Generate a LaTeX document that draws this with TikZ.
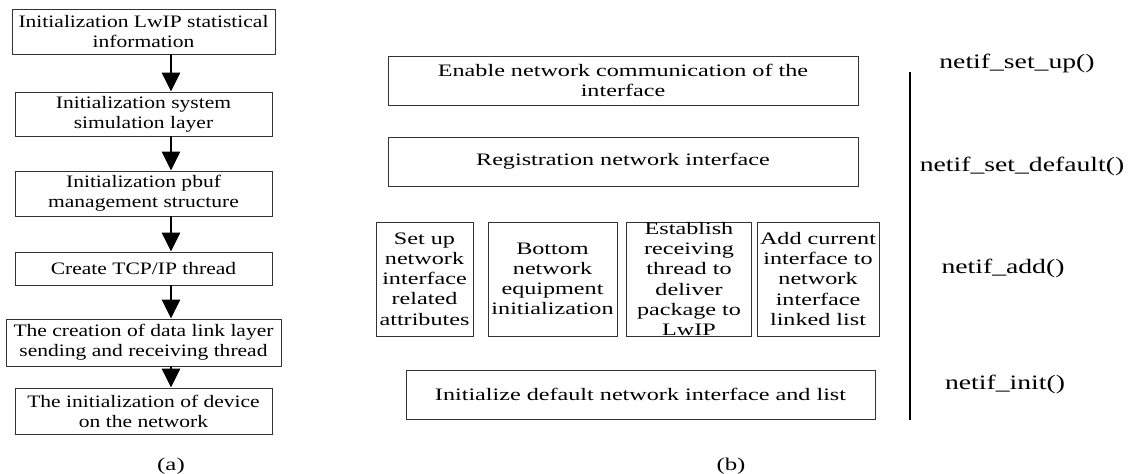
\documentclass[tikz,border=0pt]{standalone}
\usepackage{amsmath}
\usepackage{fontspec}
\setmainfont{Liberation Serif}
\newfontfamily\leftfont[FakeStretch=1.23]{Liberation Serif}
\newfontfamily\rightfont[FakeStretch=1.38]{Liberation Serif}
\newfontfamily\funcfont[FakeStretch=1.35]{Liberation Serif}
\usepackage{tikz}
\usepackage{xcolor}
\usetikzlibrary{arrows.meta}

\begin{document}
\begin{tikzpicture}[x=1pt,y=-1pt]%
  \tikzstyle{stepa}=[rectangle,draw=black!80,line width=0.9pt,align=center,inner sep=0,
    font=\leftfont\fontsize{17.5}{20}\selectfont]
  \tikzstyle{stepb}=[rectangle,draw=black!80,line width=0.9pt,align=center,inner sep=0,
    font=\rightfont\fontsize{17.5}{20.2}\selectfont]
  \tikzstyle{func}=[font=\funcfont\fontsize{20.5}{24}\selectfont,inner sep=0]
  \tikzstyle{capt}=[font=\rightfont\fontsize{18}{20}\selectfont,inner sep=0]
  \tikzstyle{flow}=[line width=2.6pt,-{Triangle[length=19pt,width=18pt]}]
  \useasboundingbox (0,0) rectangle (1133,474);
  % (a) start-up sequence
  \node(s1)[stepa,minimum width=263,minimum height=45] at (143.5,31.5)
    {Initialization LwIP statistical\\information};
  \node(s2)[stepa,minimum width=257,minimum height=44] at (143.5,114)
    {Initialization system\\simulation layer};
  \node(s3)[stepa,minimum width=257,minimum height=45] at (143.5,193.5)
    {Initialization pbuf\\management structure};
  \node(s4)[stepa,minimum width=257,minimum height=33] at (143.5,268.5)
    {Create TCP/IP thread};
  \node(s5)[stepa,minimum width=275,minimum height=47] at (143.5,342.5)
    {The creation of data link layer\\sending and receiving thread};
  \node(s6)[stepa,minimum width=257,minimum height=46] at (143.5,411)
    {The initialization of device\\on the network};
  \foreach \a/\b in {s1/s2,s2/s3,s3/s4,s4/s5,s5/s6}
    \draw[flow] ([xshift=27.5pt]\a.south) -- ([xshift=27.5pt]\b.north);
  \node(capa)[capt] at (171,466) {(a)};
  % (b) network interface set-up
  \node(up)[stepb,minimum width=470,minimum height=49] at (623,80.5)
    {Enable network communication of the\\interface};
  \node(dflt)[stepb,minimum width=470,minimum height=49] at (623,161.5)
    {Registration network interface};
  \node(attr)[stepb,minimum width=97,minimum height=114] at (424.5,279)
    {Set up\\network\\interface\\related\\attributes};
  \node(dev)[stepb,minimum width=129,minimum height=114] at (552.5,279)
    {Bottom\\network\\equipment\\initialization};
  \node(recv)[stepb,minimum width=125,minimum height=114] at (689,279)
    {Establish\\receiving\\thread to\\deliver\\package to\\LwIP};
  \node(list)[stepb,minimum width=122,minimum height=114] at (818,279)
    {Add current\\interface to\\network\\interface\\linked list};
  \node(init)[stepb,minimum width=469,minimum height=49] at (640.5,394.5)
    {Initialize default network interface and list};
  \coordinate(bartop) at (910,72);
  \coordinate(barbot) at (910,420);
  \draw[line width=2.6pt] (bartop) -- (barbot);
  \node(fup)[func] at (1017,63) {netif\_set\_up()};
  \node(fdflt)[func] at (1022,166) {netif\_set\_default()};
  \node(fadd)[func] at (1003,268) {netif\_add()};
  \node(finit)[func] at (1005,384) {netif\_init()};
  \node(capb)[capt] at (731,466) {(b)};
\end{tikzpicture}
\end{document}
